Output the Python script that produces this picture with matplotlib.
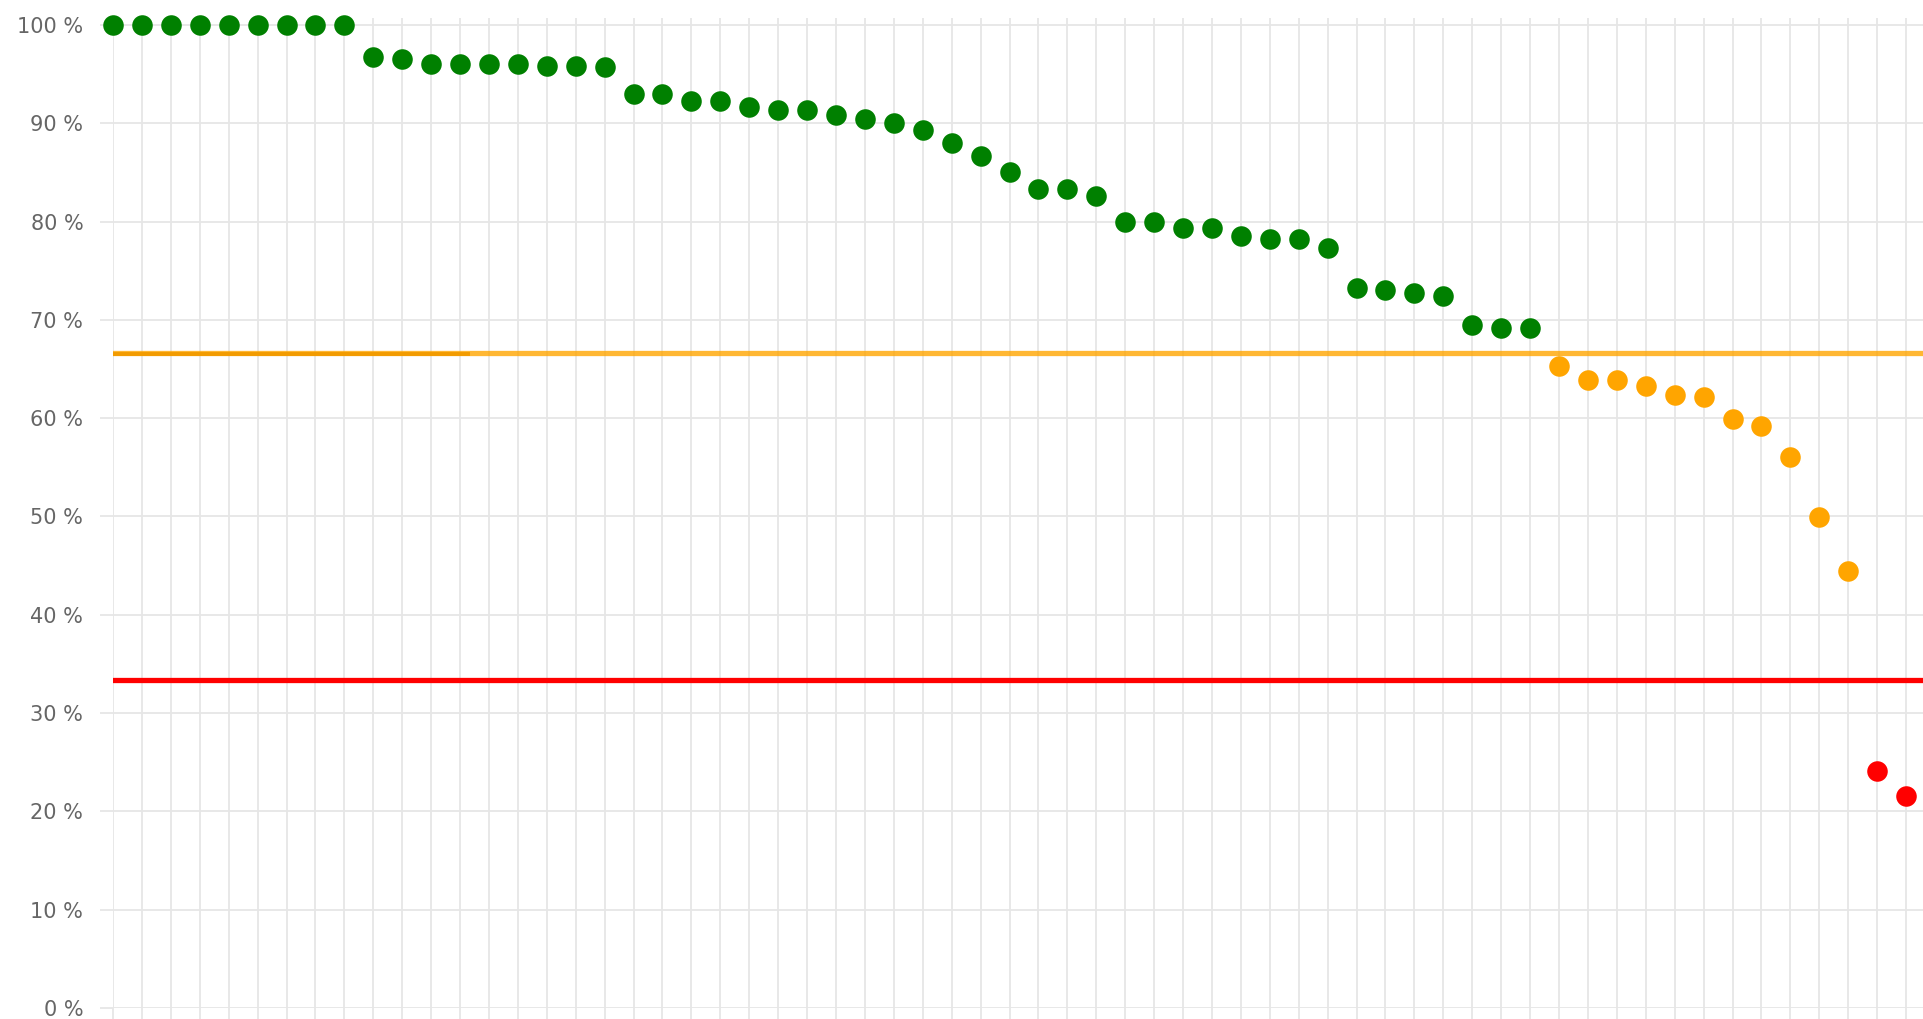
import matplotlib.pyplot as plt
import numpy as np

# share of each item, sorted descending (percent)
green_vals = [100, 100, 100, 100, 100, 100, 100, 100, 100,
              96.7, 96.5, 96.0, 96.0, 96.0, 96.0, 95.8, 95.8, 95.7,
              93.0, 93.0, 92.3, 92.3, 91.6, 91.3, 91.3, 90.8, 90.4, 90.0,
              89.3, 88.0, 86.7, 85.0, 83.3, 83.3, 82.6,
              79.9, 80.0, 79.3, 79.3, 78.5, 78.2, 78.2, 77.3,
              73.2, 73.0, 72.7, 72.4, 69.5, 69.2, 69.2]
orange_vals = [65.3, 63.9, 63.9, 63.3, 62.4, 62.1, 59.9, 59.2, 56.0, 49.9, 44.4]
red_vals = [24.1, 21.6, 16.0]

upper_limit = 66.67
lower_limit = 33.33
yticks = np.arange(0, 101, 10)

W, H, DPI = 1924, 1019, 100
fig = plt.figure(figsize=(W / DPI, H / DPI), dpi=DPI)

n_total = len(green_vals) + len(orange_vals) + len(red_vals)
px_step = 28.92
left_px, top_px, bottom_px = 113, 18, 1008
ax = fig.add_axes([left_px / W, (H - bottom_px) / H,
                   (n_total + 0.5) * px_step / W, (bottom_px - top_px) / H])

x_green = np.arange(len(green_vals))
x_orange = np.arange(len(orange_vals)) + len(green_vals)
x_red = np.arange(len(red_vals)) + len(green_vals) + len(orange_vals)

ms = 14.8
ax.plot(x_green, green_vals, 'o', color='#008000', ms=ms, mew=0, clip_on=False, zorder=3)
ax.plot(x_orange, orange_vals, 'o', color='#FFA500', ms=ms, mew=0, clip_on=False, zorder=3)
ax.plot(x_red, red_vals, 'o', color='#FF0000', ms=ms, mew=0, clip_on=False, zorder=3)

ax.axhline(upper_limit, color='#FFA500', lw=3.8, alpha=0.8, zorder=4)
ax.plot([0, 12.35], [upper_limit - 0.12, upper_limit - 0.12], color='#F29B00', lw=2.8, zorder=4,
        solid_capstyle='butt')
ax.axhline(lower_limit, color='#FF0000', lw=3.8, zorder=4)

ax.set_xlim(0, n_total + 0.5)
ax.set_ylim(0, 100.7)
ax.set_yticks(yticks)
ax.set_yticklabels([f'{v} %' for v in yticks])
ax.set_xticks(np.arange(n_total + 1))
ax.set_xticklabels([])

ax.grid(True, color='#e6e6e6', lw=1.3, zorder=0)
ax.set_axisbelow(True)
for s in ax.spines.values():
    s.set_visible(False)
ax.tick_params(axis='both', length=9.4, width=1.3, color='#e6e6e6')
ax.tick_params(axis='y', pad=12, labelsize=15, labelcolor='#666666')

fig.savefig('out.png', dpi=DPI)
